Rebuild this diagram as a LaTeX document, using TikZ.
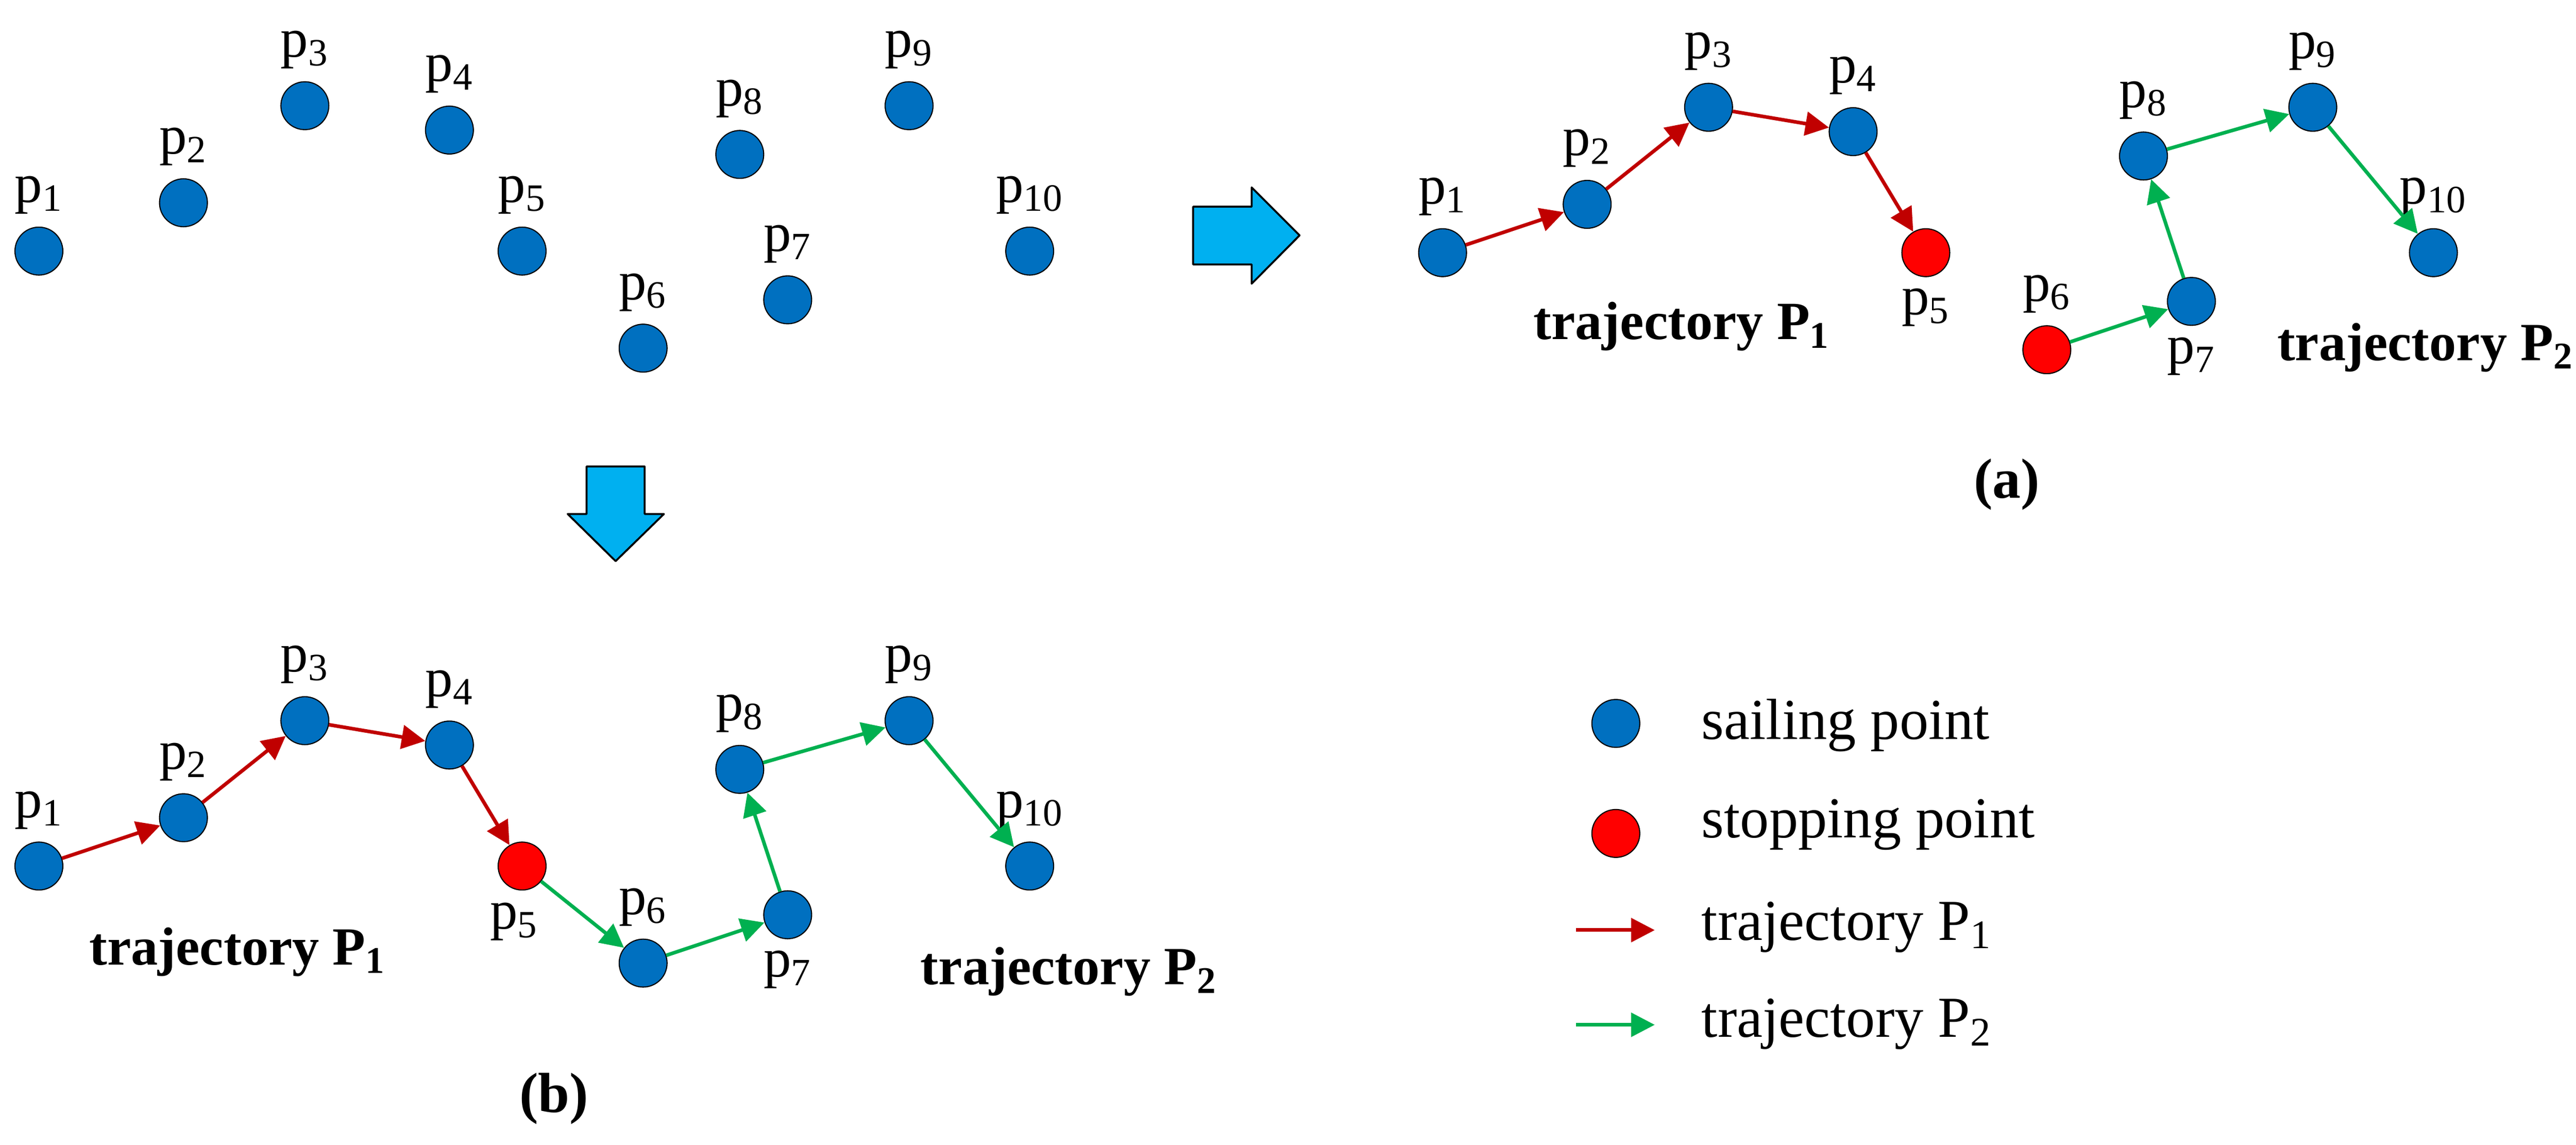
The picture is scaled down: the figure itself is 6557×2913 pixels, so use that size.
\documentclass[tikz,border=0pt]{standalone}
\usepackage{fontspec}
\setmainfont{Liberation Serif}
\usetikzlibrary{arrows.meta}
\definecolor{ptblue}{HTML}{0070C0}
\definecolor{ptred}{HTML}{FF0000}
\definecolor{trred}{HTML}{C00000}
\definecolor{trgreen}{HTML}{00B050}
\definecolor{bigblue}{HTML}{00B0F0}
\tikzset{
 sail/.style={circle,draw=black,line width=0.4pt,fill=ptblue,minimum size=0.61cm,inner sep=0pt},
 stopp/.style={sail,fill=ptred},
 lab/.style={inner sep=0pt,anchor=base,font=\fontsize{20}{24}\selectfont},
 trajlab/.style={inner sep=0pt,anchor=base west,font=\fontsize{19.5}{23}\selectfont\bfseries},
 leglab/.style={inner sep=0pt,anchor=base west,font=\fontsize{21}{25}\selectfont},
 panlab/.style={inner sep=0pt,anchor=base,font=\fontsize{20.5}{24}\selectfont\bfseries},
 rarr/.style={draw=trred,line width=1.3pt,-{Triangle[length=0.3cm,width=0.3cm]}},
 garr/.style={draw=trgreen,line width=1.3pt,-{Triangle[length=0.3cm,width=0.3cm]}},
 bigarrow/.style={draw=black,line width=0.7pt,fill=bigblue,line join=round},
}
\begin{document}
\begin{tikzpicture}[x=0.005cm,y=-0.005cm]
\fill[white] (0,0) rectangle (6557,2913);
\useasboundingbox (0,0) rectangle (6557,2913);

% ---------- top: raw points ----------
\foreach \i/\x/\y in {1/99/639,2/467/516,3/776/269,4/1144/331,5/1329/639,6/1637/886,7/2005/763,8/1883/393,9/2314/269,10/2621/639}{
  \node[sail] (t\i) at (\x,\y) {};
  \node[lab] (tl\i) at (\x,{\y-124}) {p\textsubscript{\i}};
}

% ---------- big arrows ----------
\draw[bigarrow] (3037,526) -- (3186,526) -- (3186,477) -- (3308,599) -- (3186,722) -- (3186,673) -- (3037,673) -- cycle;
\draw[bigarrow] (1493,1187) -- (1641,1187) -- (1641,1308) -- (1690,1308) -- (1567,1428) -- (1445,1308) -- (1493,1308) -- cycle;

% ---------- panel (a) ----------
\begin{scope}[shift={(3573,4)}]
\foreach \i/\x/\y/\dy in {1/99/639/-124,2/467/516/-124,3/776/269/-124,4/1144/331/-124,7/2005/763/158,8/1883/393/-124,9/2314/269/-124,10/2621/639/-124}{
  \node[sail] (a\i) at (\x,\y) {};
  \node[lab] (al\i) at (\x,{\y+\dy}) {p\textsubscript{\i}};
}
\node[stopp] (a5) at (1329,639) {};
\node[lab] (al5) at (1329,797) {p\textsubscript{5}};
\node[stopp] (a6) at (1637,886) {};
\node[lab] (al6) at (1637,762) {p\textsubscript{6}};
\end{scope}
\draw[rarr] (a1) -- (a2);
\draw[rarr] (a2) -- (a3);
\draw[rarr] (a3) -- (a4);
\draw[rarr] (a4) -- (a5);
\draw[garr] (a6) -- (a7);
\draw[garr] (a7) -- (a8);
\draw[garr] (a8) -- (a9);
\draw[garr] (a9) -- (a10);
\node[trajlab] (atp1) at (3902,864) {trajectory P\textsubscript{1}};
\node[trajlab] (atp2) at (5795,917) {trajectory P\textsubscript{2}};
\node[panlab] (acap) at (5108,1267) {(a)};

% ---------- panel (b) ----------
\begin{scope}[shift={(0,1565)}]
\foreach \i/\x/\y/\dy in {1/99/639/-124,2/467/516/-124,3/776/269/-124,4/1144/331/-124,6/1637/886/-124,7/2005/763/158,8/1883/393/-124,9/2314/269/-124,10/2621/639/-124}{
  \node[sail] (b\i) at (\x,\y) {};
  \node[lab] (bl\i) at (\x,{\y+\dy}) {p\textsubscript{\i}};
}
\node[stopp] (b5) at (1329,639) {};
\node[lab] (bl5) at (1309,799) {p\textsubscript{5}};
\end{scope}
\draw[rarr] (b1) -- (b2);
\draw[rarr] (b2) -- (b3);
\draw[rarr] (b3) -- (b4);
\draw[rarr] (b4) -- (b5);
\draw[garr] (b5) -- (b6);
\draw[garr] (b6) -- (b7);
\draw[garr] (b7) -- (b8);
\draw[garr] (b8) -- (b9);
\draw[garr] (b9) -- (b10);
\node[trajlab] (btp1) at (226,2455) {trajectory P\textsubscript{1}};
\node[trajlab] (btp2) at (2342,2506) {trajectory P\textsubscript{2}};
\node[panlab] (bcap) at (1410,2831) {(b)};

% ---------- legend ----------
\node[sail] (lg1) at (4113,1841) {};
\node[stopp] (lg2) at (4113,2121) {};
\coordinate (lg3a) at (4012,2367);
\coordinate (lg3b) at (4212,2367);
\coordinate (lg4a) at (4012,2608);
\coordinate (lg4b) at (4212,2608);
\draw[rarr] (lg3a) -- (lg3b);
\draw[garr] (lg4a) -- (lg4b);
\node[leglab] (lt1) at (4330,1881) {sailing point};
\node[leglab] (lt2) at (4330,2131) {stopping point};
\node[leglab] (lt3) at (4330,2392) {trajectory P\textsubscript{1}};
\node[leglab] (lt4) at (4330,2639) {trajectory P\textsubscript{2}};
\end{tikzpicture}
\end{document}
